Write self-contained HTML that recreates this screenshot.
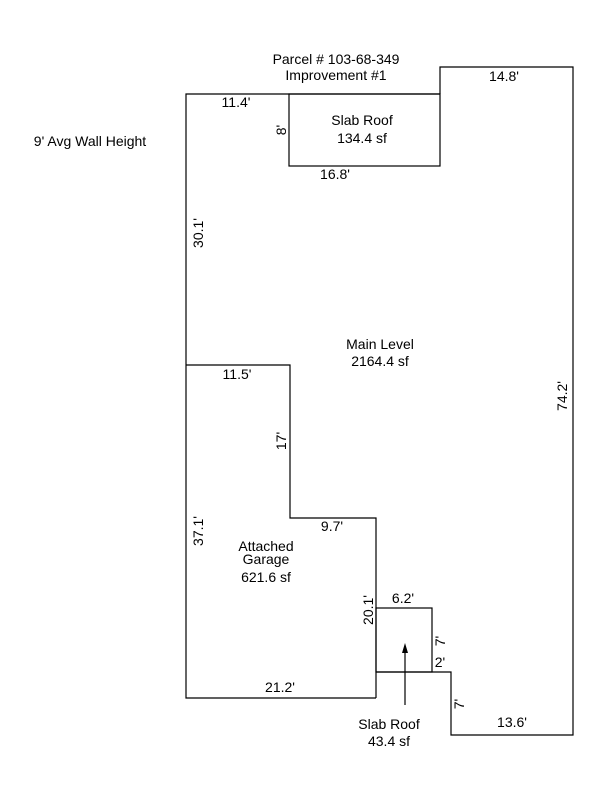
<!DOCTYPE html>
<html><head><meta charset="utf-8"><style>body{margin:0;background:#fff}</style></head><body>
<svg width="600" height="800" viewBox="0 0 600 800" xmlns="http://www.w3.org/2000/svg" font-family="Liberation Sans, sans-serif" font-size="14" fill="#000">
<g stroke="#000" stroke-width="1.2" fill="none">
<polyline points="440,94 440,67 573,67 573,735 451,735 451,672 376,672"/>
<polyline points="376,698 186,698 186,94 440,94"/>
<rect x="289" y="94" width="151" height="72"/>
<polyline points="186,365 290,365 290,518 376,518 376,698"/>
<rect x="376" y="608" width="56" height="64"/>
<line x1="405" y1="705" x2="405" y2="650"/>
</g>
<polygon points="405,643 402,653 408,653" fill="#000"/>
<g text-anchor="middle">
<text x="336" y="64">Parcel # 103-68-349</text>
<text x="336" y="80">Improvement #1</text>
<text x="90" y="146">9' Avg Wall Height</text>
<text x="236" y="107">11.4'</text>
<text x="504" y="81">14.8'</text>
<text x="362" y="125">Slab Roof</text>
<text x="362" y="143">134.4 sf</text>
<text x="335" y="179">16.8'</text>
<text x="380" y="349">Main Level</text>
<text x="380" y="366">2164.4 sf</text>
<text x="237" y="379">11.5'</text>
<text x="332" y="531">9.7'</text>
<text x="266" y="551">Attached</text>
<text x="266" y="564">Garage</text>
<text x="266" y="582">621.6 sf</text>
<text x="403" y="603">6.2'</text>
<text x="440" y="667">2'</text>
<text x="280" y="692">21.2'</text>
<text x="512" y="727">13.6'</text>
<text x="389" y="729">Slab Roof</text>
<text x="389" y="746">43.4 sf</text>
<text transform="translate(203,233) rotate(-90)">30.1'</text>
<text transform="translate(286,130) rotate(-90)">8'</text>
<text transform="translate(286,441) rotate(-90)">17'</text>
<text transform="translate(203,531) rotate(-90)">37.1'</text>
<text transform="translate(373,610) rotate(-90)">20.1'</text>
<text transform="translate(567,396) rotate(-90)">74.2'</text>
<text transform="translate(445,641) rotate(-90)">7'</text>
<text transform="translate(464,704) rotate(-90)">7'</text>
</g>
</svg>
</body></html>
